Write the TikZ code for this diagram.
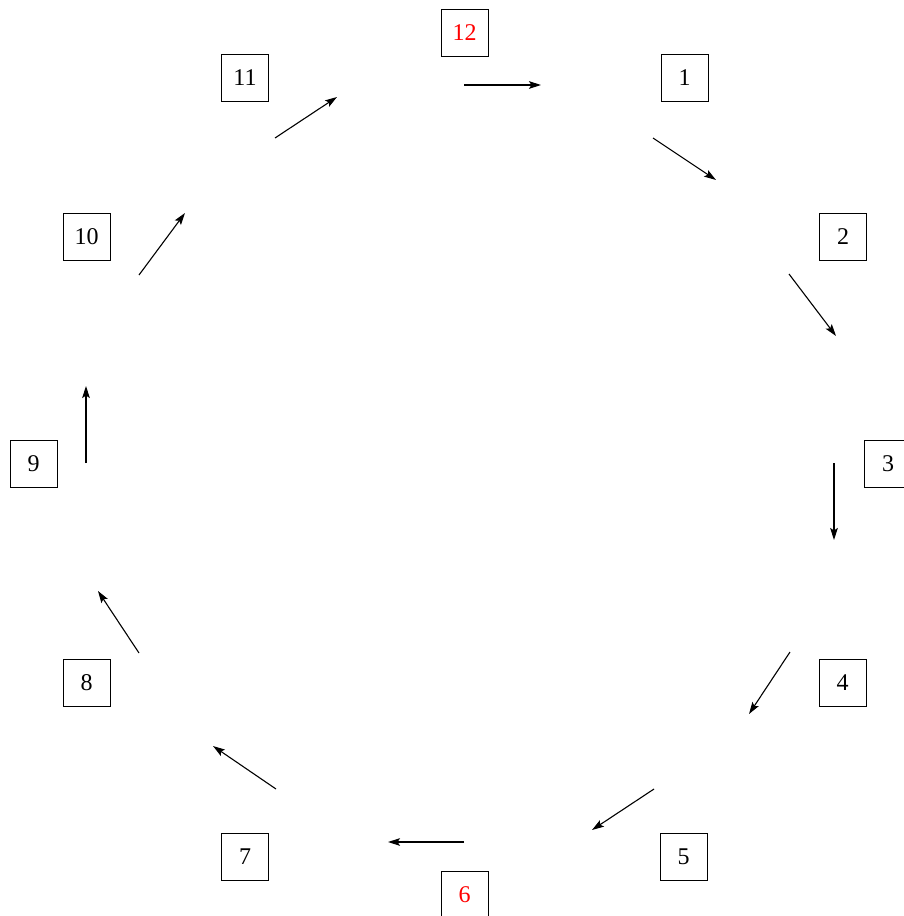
\documentclass[tikz,border=0pt]{standalone}
\usepackage{fontspec}
\setmainfont{Liberation Serif}
\usetikzlibrary{arrows.meta}
\begin{document}
\begin{tikzpicture}[x=0.5pt,y=-0.5pt,
  numbox/.style={draw=black,line width=0.5pt,minimum size=23.5pt,inner sep=0pt,font=\fontsize{12}{14}\selectfont},
  redtext/.style={text=red},
  flow/.style={line width=0.55pt,-{Stealth[length=6pt,width=3.8pt,inset=1.2pt]}}]
\clip (0,0) rectangle (904,916);
\fill[white] (0,0) rectangle (904,916);
% boxes
\node[numbox,redtext] (n12) at (464.5,32.5) {12};
\node[numbox] (n1) at (684.5,77.5) {1};
\node[numbox] (n2) at (843,236.5) {2};
\node[numbox] (n3) at (888,463.5) {3};
\node[numbox] (n4) at (842.5,682.5) {4};
\node[numbox] (n5) at (683.5,856.5) {5};
\node[numbox,redtext] (n6) at (464.5,895) {6};
\node[numbox] (n7) at (245,856.5) {7};
\node[numbox] (n8) at (86.5,682.5) {8};
\node[numbox] (n9) at (33.5,463.5) {9};
\node[numbox] (n10) at (86.5,237) {10};
\node[numbox] (n11) at (245,78) {11};
% arrow end points
\coordinate (a12s) at (464,85);  \coordinate (a12e) at (541,85);
\coordinate (a1s) at (653,138);  \coordinate (a1e) at (716,180);
\coordinate (a2s) at (789,274);  \coordinate (a2e) at (836,336);
\coordinate (a3s) at (834,463);  \coordinate (a3e) at (834,540);
\coordinate (a4s) at (790,652);  \coordinate (a4e) at (749,714);
\coordinate (a5s) at (654,789);  \coordinate (a5e) at (592,830);
\coordinate (a6s) at (464,842);  \coordinate (a6e) at (388,842);
\coordinate (a7s) at (276,789);  \coordinate (a7e) at (213,746);
\coordinate (a8s) at (139,653);  \coordinate (a8e) at (98,591);
\coordinate (a9s) at (86,463);   \coordinate (a9e) at (86,386);
\coordinate (a10s) at (139,275); \coordinate (a10e) at (185,213);
\coordinate (a11s) at (275,138); \coordinate (a11e) at (337,97);
\draw[flow] (a12s) -- (a12e);
\draw[flow] (a1s) -- (a1e);
\draw[flow] (a2s) -- (a2e);
\draw[flow] (a3s) -- (a3e);
\draw[flow] (a4s) -- (a4e);
\draw[flow] (a5s) -- (a5e);
\draw[flow] (a6s) -- (a6e);
\draw[flow] (a7s) -- (a7e);
\draw[flow] (a8s) -- (a8e);
\draw[flow] (a9s) -- (a9e);
\draw[flow] (a10s) -- (a10e);
\draw[flow] (a11s) -- (a11e);
\end{tikzpicture}
\end{document}
